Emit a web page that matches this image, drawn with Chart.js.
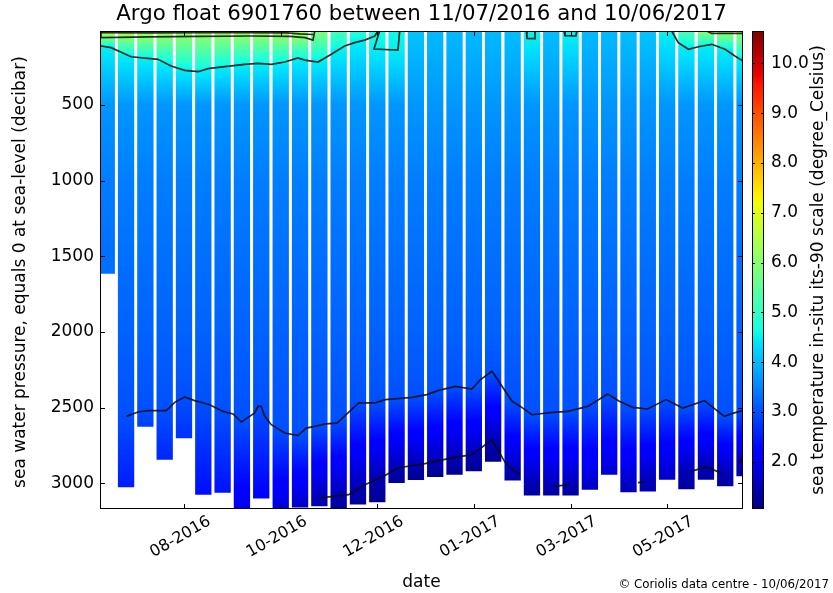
<!DOCTYPE html>
<html>
<head>
<meta charset="utf-8">
<script src="https://cdn.jsdelivr.net/npm/chart.js@4/dist/chart.umd.min.js"></script>
<style>
html,body{margin:0;padding:0;background:#ffffff;}
#wrap{width:833px;height:593px;}
</style>
</head>
<body>
<div id="wrap"><canvas id="c" width="833" height="593"></canvas></div>
<script>
// ---------------- texts ----------------
const titleText = 'Argo float 6901760 between 11/07/2016 and 10/06/2017';
const xAxisTitle = 'date';
const yAxisTitle = 'sea water pressure, equals 0 at sea-level (decibar)';
const colorbarTitle = 'sea temperature in-situ its-90 scale (degree_Celsius)';
const creditText = '\u00A9 Coriolis data centre - 10/06/2017';

// ---------------- axes ----------------
const dayRange = [0, 333];                       // days since 11/07/2016
const xTickDays = [43.7, 93.7, 143.7, 193.7, 243.7, 293.7];
const xTickLabels = ['08-2016', '10-2016', '12-2016', '01-2017', '03-2017', '05-2017'];
const pressureRange = [11, 3170];
const pressureTicks = [500, 1000, 1500, 2000, 2500, 3000];
const colorRange = [1.05, 10.65];
const temperatureTicks = [2, 3, 4, 5, 6, 7, 8, 9, 10];

// ---------------- profiles (one column per float cycle) ----------------
const profileDays = [3.5, 13.5, 23.5, 33.5, 43.5, 53.5, 63.5, 73.5, 83.5, 93.6, 103.6, 113.6,
  123.6, 133.6, 143.6, 153.6, 163.6, 173.6, 183.6, 193.6, 203.6, 213.7, 223.7, 233.7, 243.7,
  253.7, 263.7, 273.7, 283.7, 293.7, 303.7, 313.8, 323.8, 333.8];
const surfacePressure = 11;
const profileBottomPressure = [1616, 3027, 2626, 2844, 2703, 3075, 3062, 3170, 3101, 3170, 3160, 3152,
  3170, 3141, 3125, 2998, 2979, 2958, 2943, 2920, 2857, 2982, 3081, 3081, 3081,
  3042, 2943, 3059, 3055, 2976, 3039, 2976, 3020, 2954];
const surfaceTemp = [6.4, 6.4, 6.4, 6.4, 6.4, 6.4, 6.4, 6.4, 6.4, 6.4, 6.3, 5.9,
  5.2, 4.8, 4.7, 4.6, 4.1, 4.0, 4.0, 4.0, 4.0, 4.05, 4.55, 4.05, 4.5,
  4.0, 4.0, 4.05, 4.1, 4.6, 5.3, 6.05, 6.4, 6.4];
const iso60Depth = [50, 52, 50, 48, 46, 46, 45, 44, 44, 45, 52, null,
  null, null, null, null, null, null, null, null, null, null, null, null, null,
  null, null, null, null, null, null, 15, 27, 27];
const iso45Depth = [115, 170, 190, 225, 265, 272, 250, 235, 227, 225, 195, 205,
  140, 80, 130, 137, null, null, null, null, null, null, 62, null, 44,
  null, null, null, null, 30, 110, 108, 130, 190];
const iso30Depth = [2560, 2555, 2521, 2520, 2432, 2470, 2522, 2585, 2492, 2645, 2682, 2618,
  2580, 2469, 2466, 2442, 2432, 2397, 2360, 2370, 2270, 2460, 2547, 2531, 2523,
  2482, 2415, 2495, 2505, 2450, 2500, 2455, 2555, 2520];
const iso15Depth = [null, null, null, null, null, null, null, null, null, null, null, 3100,
  3080, 3025, 2965, 2905, 2880, 2858, 2832, 2810, 2720, 2920, 3000, 3018, 3010,
  null, null, null, 2995, null, 2925, 2895, 2930, 2850];
const bottomTemp = [3.3, 2.5, 2.85, 2.6, 2.7, 2.35, 2.4, 2.0, 2.2, 1.8, 1.6, 1.45,
  1.3, 1.25, 1.2, 1.25, 1.2, 1.2, 1.2, 1.2, 1.2, 1.3, 1.3, 1.3, 1.3,
  1.6, 1.7, 1.5, 1.4, 1.6, 1.3, 1.35, 1.35, 1.4];
const interiorPressure = [500, 1000, 1500, 2000];
const interiorTemp = [3.66, 3.43, 3.3, 3.17];

// ---------------- contour lines [day, pressure] ----------------
const contour60a = [[0.5, 11], [0.5, 55], [25.9, 50], [51.8, 46], [77.7, 44], [98.4, 46], [106.2, 55], [110.3, 71], [111.2, 11]];
const contour60b = [[0.5, 22], [25.9, 24], [51.8, 22], [75.1, 22], [96.8, 24], [103.6, 30], [110.3, 34]];
const contour60c = [[314.2, 11], [316.8, 27], [333, 27]];
const contour45a = [[0, 110], [0.7, 110], [5.7, 121], [16.1, 181], [30.0, 198], [36.8, 242], [43.9, 271],
  [50.8, 280], [55.9, 260], [64.6, 247], [74.9, 231], [81.8, 225], [88.7, 231], [95.7, 216],
  [102.5, 189], [106.0, 203], [112.9, 216], [119.8, 165], [126.7, 110], [131.9, 88], [137.1, 71],
  [142.3, 44], [144.0, 11]];
const contour45b = [[144.8, 11], [141.9, 130], [154.3, 137], [155.2, 11]];
const contour45c = [[220.9, 11], [221.1, 60], [225.3, 62], [225.3, 11]];
const contour45d = [[240.4, 11], [240.8, 42], [246.5, 44], [246.9, 11]];
const contour45e = [[296.1, 11], [299.5, 88], [304.7, 132], [309.9, 115], [316.8, 99], [323.7, 132], [328.8, 176], [333, 209]];
const contour30 = [[13.6, 2558], [19.7, 2529], [24.9, 2520], [34.3, 2520], [38.7, 2465], [43.9, 2430],
  [49.0, 2454], [56.8, 2481], [63.7, 2525], [68.9, 2542], [73.2, 2595], [80.1, 2535], [81.8, 2492],
  [83.5, 2492], [85.3, 2558], [88.7, 2613], [95.7, 2668], [102.5, 2685], [106.8, 2635], [112.9, 2619],
  [116.7, 2608], [122.7, 2602], [134.0, 2469], [142.6, 2469], [147.7, 2447], [161.6, 2432],
  [169.3, 2414], [175.4, 2386], [184.0, 2360], [192.6, 2377], [196.9, 2316], [203.0, 2260],
  [213.4, 2458], [217.7, 2492], [223.7, 2547], [234.4, 2531], [242.2, 2525], [252.6, 2492],
  [262.9, 2410], [268.9, 2458], [275.9, 2498], [283.6, 2509], [293.1, 2447], [301.8, 2503],
  [313.0, 2454], [323.3, 2558], [328.5, 2535], [333, 2520]];
const contour15a = [[113.9, 3097], [128.8, 3075], [137.2, 3010], [146.9, 2954], [154.7, 2897],
  [168.3, 2870], [182.3, 2832], [192.6, 2811], [203.0, 2712], [206.5, 2789], [209.7, 2860],
  [213.4, 2910], [217.5, 2938]];
const contour15b = [[235.1, 3020], [242.9, 3009]];
const contour15c = [[278.6, 2996], [281.7, 2990]];
const contour15d = [[306.1, 2921], [313.9, 2892], [321.6, 2931]];
const contour15e = [[330.9, 2864], [333, 2830]];
const contourLines = [contour60a, contour60b, contour60c, contour45a, contour45b, contour45c, contour45d,
  contour45e, contour30, contour15a, contour15b, contour15c, contour15d, contour15e];

// ---------------- colour helpers ----------------
function seg(pts, v) {
  for (let i = 1; i < pts.length; i++) {
    if (v <= pts[i][0]) {
      const [x0, y0] = pts[i - 1], [x1, y1] = pts[i];
      return y0 + (y1 - y0) * (v - x0) / (x1 - x0);
    }
  }
  return pts[pts.length - 1][1];
}
const JET_R = [[0, 0], [0.35, 0], [0.66, 1], [0.89, 1], [1, 0.5]];
const JET_G = [[0, 0], [0.125, 0], [0.375, 1], [0.64, 1], [0.91, 0], [1, 0]];
const JET_B = [[0, 0.5], [0.11, 1], [0.34, 1], [0.65, 0], [1, 0]];
function jetColor(t) {
  let v = (t - colorRange[0]) / (colorRange[1] - colorRange[0]);
  v = Math.max(0, Math.min(1, v));
  const r = Math.round(255 * seg(JET_R, v)), g = Math.round(255 * seg(JET_G, v)), b = Math.round(255 * seg(JET_B, v));
  return 'rgb(' + r + ',' + g + ',' + b + ')';
}
function interp(a, p) {
  if (p <= a[0][0]) return a[0][1];
  for (let i = 1; i < a.length; i++) {
    if (p <= a[i][0]) {
      const [p0, t0] = a[i - 1], [p1, t1] = a[i];
      return p1 === p0 ? t1 : t0 + (t1 - t0) * (p - p0) / (p1 - p0);
    }
  }
  return a[a.length - 1][1];
}
function profileAnchors(i) {
  const a = [[surfacePressure, surfaceTemp[i]]];
  if (iso60Depth[i] != null) a.push([iso60Depth[i], 6.0]);
  if (iso45Depth[i] != null) a.push([iso45Depth[i], 4.5]);
  interiorPressure.forEach((p, j) => a.push([p, interiorTemp[j]]));
  a.push([iso30Depth[i], 3.0]);
  if (iso15Depth[i] != null) a.push([iso15Depth[i], 1.5]);
  a.push([profileBottomPressure[i], bottomTemp[i]]);
  a.sort((m, n) => m[0] - n[0]);
  return a;
}
const gradCache = {};
function columnGradient(chart, i) {
  const area = chart.chartArea;
  const ys = chart.scales.y;
  if (!area || !ys) return 'rgb(0,120,255)';
  const key = i + ':' + area.top + ':' + area.bottom;
  if (gradCache[key]) return gradCache[key];
  const y0 = ys.getPixelForValue(pressureRange[0]), y1 = ys.getPixelForValue(pressureRange[1]);
  const g = chart.ctx.createLinearGradient(0, y0, 0, y1);
  const a = profileAnchors(i);
  const N = 240;
  for (let s = 0; s <= N; s++) {
    const p = pressureRange[0] + (pressureRange[1] - pressureRange[0]) * s / N;
    g.addColorStop(s / N, jetColor(interp(a, p)));
  }
  gradCache[key] = g;
  return g;
}

// ---------------- datasets ----------------
const FONT = 'DejaVu Sans';
const datasets = [{
  type: 'bar',
  data: profileDays.map((d, i) => ({ x: d, y: [surfacePressure, profileBottomPressure[i]] })),
  backgroundColor: ctx => columnGradient(ctx.chart, ctx.dataIndex),
  borderWidth: 0,
  barPercentage: 0.845,
  categoryPercentage: 1.0,
  order: 2
}];
contourLines.forEach(line => {
  datasets.push({
    type: 'line',
    data: line.map(pt => ({ x: pt[0], y: pt[1] })),
    borderColor: 'rgba(10,10,10,0.85)',
    borderWidth: 1.7,
    pointRadius: 0,
    fill: false,
    tension: 0,
    order: 1
  });
});

// ---------------- decoration plugin ----------------
const decor = {
  id: 'decor',
  afterDraw(chart) {
    const ctx = chart.ctx, a = chart.chartArea;
    const xs = chart.scales.x, ys = chart.scales.y, cs = chart.scales.y2;
    ctx.save();
    // frame
    ctx.strokeStyle = '#000';
    ctx.lineWidth = 1;
    ctx.strokeRect(a.left + 0.5, a.top + 0.5, a.right - a.left - 1, a.bottom - a.top - 1);
    // inward ticks
    ctx.beginPath();
    pressureTicks.forEach(v => {
      const y = Math.round(ys.getPixelForValue(v)) + 0.5;
      ctx.moveTo(a.left, y); ctx.lineTo(a.left + 5, y);
      ctx.moveTo(a.right, y); ctx.lineTo(a.right - 5, y);
    });
    xTickDays.forEach(v => {
      const x = Math.round(xs.getPixelForValue(v)) + 0.5;
      ctx.moveTo(x, a.bottom); ctx.lineTo(x, a.bottom - 5);
      ctx.moveTo(x, a.top); ctx.lineTo(x, a.top + 5);
    });
    ctx.stroke();
    // colour bar
    const cbL = 752, cbW = 12;
    const cTop = cs.getPixelForValue(colorRange[1]), cBot = cs.getPixelForValue(colorRange[0]);
    const g = ctx.createLinearGradient(0, cBot, 0, cTop);
    for (let s = 0; s <= 100; s++) {
      g.addColorStop(s / 100, jetColor(colorRange[0] + (colorRange[1] - colorRange[0]) * s / 100));
    }
    ctx.fillStyle = g;
    ctx.fillRect(cbL, cTop, cbW, cBot - cTop);
    ctx.strokeStyle = '#000';
    ctx.strokeRect(cbL + 0.5, cTop + 0.5, cbW - 1, cBot - cTop - 1);
    ctx.beginPath();
    temperatureTicks.forEach(v => {
      const y = Math.round(cs.getPixelForValue(v)) + 0.5;
      ctx.moveTo(cbL + cbW, y); ctx.lineTo(cbL + cbW - 3, y);
      ctx.moveTo(cbL, y); ctx.lineTo(cbL + 3, y);
    });
    ctx.stroke();
    // texts
    ctx.fillStyle = '#000';
    ctx.textAlign = 'center';
    ctx.textBaseline = 'middle';
    ctx.font = '21.3px "' + FONT + '"';
    ctx.fillText(titleText, (a.left + a.right) / 2, 14);
    ctx.font = '17px "' + FONT + '"';
    ctx.fillText(xAxisTitle, (a.left + a.right) / 2, 583);
    ctx.save();
    ctx.translate(21, (a.top + a.bottom) / 2 + 2);
    ctx.rotate(-Math.PI / 2);
    ctx.fillText(yAxisTitle, 0, 0);
    ctx.restore();
    ctx.save();
    ctx.translate(819, (a.top + a.bottom) / 2);
    ctx.rotate(-Math.PI / 2);
    ctx.fillText(colorbarTitle, 0, 0);
    ctx.restore();
    ctx.font = '11.8px "' + FONT + '"';
    ctx.textAlign = 'right';
    ctx.textBaseline = 'alphabetic';
    ctx.fillText(creditText, 829, 588);
    ctx.restore();
  }
};

// ---------------- chart ----------------
new Chart(document.getElementById('c'), {
  type: 'bar',
  data: { datasets },
  options: {
    responsive: false,
    animation: false,
    devicePixelRatio: 1,
    layout: { padding: { top: 31, left: 0, right: 0, bottom: 0 } },
    plugins: { legend: { display: false }, tooltip: { enabled: false }, title: { display: false } },
    scales: {
      x: {
        type: 'linear', min: dayRange[0], max: dayRange[1], offset: false,
        grid: { display: false, drawTicks: false, offset: false },
        border: { display: false },
        afterBuildTicks: s => { s.ticks = xTickDays.map(v => ({ value: v })); },
        afterFit: s => { s.height = 84; },
        ticks: {
          autoSkip: false, minRotation: 30, maxRotation: 30, labelOffset: 25, padding: 3,
          color: '#000', font: { family: FONT, size: 16 },
          callback: (v, i) => xTickLabels[i]
        }
      },
      y: {
        type: 'linear', reverse: true, min: pressureRange[0], max: pressureRange[1],
        grid: { display: false, drawTicks: false },
        border: { display: false },
        afterBuildTicks: s => { s.ticks = pressureTicks.map(v => ({ value: v })); },
        afterFit: s => { s.width = 100; },
        ticks: { padding: 6, color: '#000', font: { family: FONT, size: 17 }, callback: v => String(v) }
      },
      y2: {
        type: 'linear', position: 'right', min: colorRange[0], max: colorRange[1],
        grid: { display: true, drawOnChartArea: false, drawTicks: true, tickLength: 26, color: 'rgba(0,0,0,0)' },
        border: { display: false },
        afterBuildTicks: s => { s.ticks = temperatureTicks.map(v => ({ value: v })); },
        afterFit: s => { s.width = 90; },
        ticks: { padding: 2, color: '#000', font: { family: FONT, size: 17 }, callback: v => Number(v).toFixed(1) }
      }
    }
  },
  plugins: [decor]
});
</script>
</body>
</html>
